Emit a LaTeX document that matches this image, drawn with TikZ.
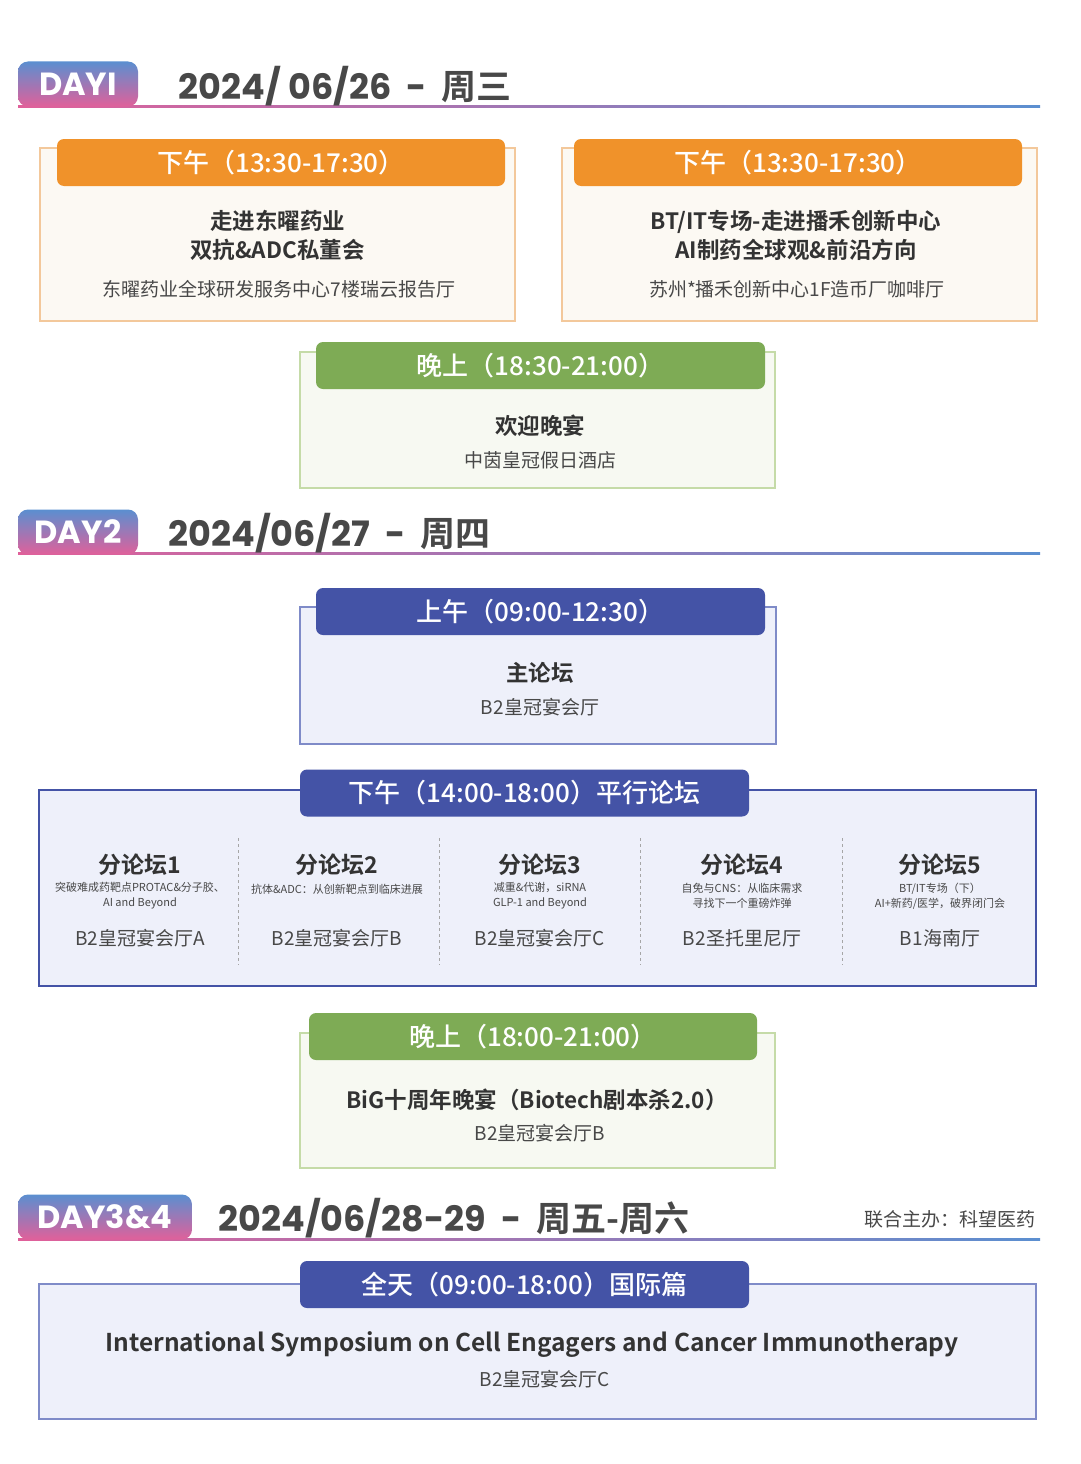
\documentclass[tikz,border=0pt]{standalone}
\usepackage{fontspec}
\setmainfont{Noto Sans CJK SC}[BoldFont={Noto Sans CJK SC Bold}]
\newfontfamily\headfont{Noto Sans CJK SC Medium}
\newfontfamily\datefont{Poppins}[BoldFont={Poppins Bold}]
\usetikzlibrary{positioning}
\definecolor{orangehead}{HTML}{F0922A}
\definecolor{orangeline}{HTML}{F3C89B}
\definecolor{orangefill}{HTML}{FCF9F3}
\definecolor{greenhead}{HTML}{7EAB55}
\definecolor{greenline}{HTML}{C5DBA8}
\definecolor{greenfill}{HTML}{F7F9F2}
\definecolor{bluehead}{HTML}{4453A6}
\definecolor{blueline}{HTML}{7F8BC8}
\definecolor{bluefill}{HTML}{EEF0FA}
\definecolor{tabtop}{HTML}{5B8FD0}
\definecolor{tabbot}{HTML}{E0609A}
\definecolor{darktext}{HTML}{333333}
\definecolor{greytext}{HTML}{484848}
\tikzset{
  sessbox/.style={draw=#1line, fill=#1fill, line width=1.2pt, inner sep=0pt},
  headbox/.style={fill=#1head, rounded corners=7pt, inner sep=0pt, minimum height=47pt,
    text=white, font=\headfont\fontsize{26}{30}\selectfont},
  titletext/.style={text=darktext, font=\bfseries\fontsize{22.5}{29}\selectfont, align=center},
  loctext/.style={text=greytext, font=\fontsize{19}{22}\selectfont},
  subtext/.style={text=greytext, font=\fontsize{11}{15}\selectfont, align=center},
  forumtitle/.style={text=darktext, font=\bfseries\fontsize{23}{26}\selectfont},
  daytab/.style={top color=tabtop, bottom color=tabbot, rounded corners=10pt, inner sep=0pt,
    minimum height=45pt, text=white, font=\datefont\bfseries\fontsize{32}{32}\selectfont},
  datetext/.style={text=greytext, anchor=west, font=\datefont\bfseries\fontsize{35}{36}\selectfont},
  divider/.style={draw=gray!70, dash pattern=on 3pt off 3pt, line width=0.8pt}
}
\begin{document}
\begin{tikzpicture}[x=1pt,y=-1pt]
\useasboundingbox[fill=white] (0,0) rectangle (1080,1464);
%% day 1
\shade[left color=tabbot, right color=tabtop] (18,105) rectangle (1040,107.5);
\node[daytab, minimum width=120pt] (tab1) at (78,84) {DAYI};
\node[datetext] (date1) at (175,86) {2024/ 06/26 \ - \ \rmfamily 周三};
\node[sessbox=orange, minimum width=475pt, minimum height=173pt] (aftbox1) at (277.5,234.5) {};
\node[headbox=orange, minimum width=448pt] (afthead1) at (281,162.5) {下午（13:30-17:30）};
\node[titletext] (afttitle1) at (277.5,235.5) {走进东曜药业\\双抗\&ADC私董会};
\node[loctext] (aftloc1) at (279,289) {东曜药业全球研发服务中心7楼瑞云报告厅};
\node[sessbox=orange, minimum width=475pt, minimum height=173pt] (aftbox2) at (799.5,234.5) {};
\node[headbox=orange, minimum width=448pt] (afthead2) at (798,162.5) {下午（13:30-17:30）};
\node[titletext] (afttitle2) at (796,235.5) {BT/IT专场-走进播禾创新中心\\AI制药全球观\&前沿方向};
\node[loctext] (aftloc2) at (797,289) {苏州*播禾创新中心1F造币厂咖啡厅};
\node[sessbox=green, minimum width=475pt, minimum height=136pt] (evebox1) at (537.5,420) {};
\node[headbox=green, minimum width=449pt] (evehead1) at (540.5,365.5) {晚上（18:30-21:00）};
\node[titletext] (evetitle1) at (540,426) {欢迎晚宴};
\node[loctext] (eveloc1) at (540,460) {中茵皇冠假日酒店};
%% day 2
\shade[left color=tabbot, right color=tabtop] (18,552) rectangle (1040,554.5);
\node[daytab, minimum width=120pt] (tab2) at (78,532) {DAY2};
\node[datetext] (date2) at (165,533) {2024/06/27 \ - \ \rmfamily 周四};
\node[sessbox=blue, minimum width=476pt, minimum height=137pt] (mornbox) at (538,675.5) {};
\node[headbox=blue, minimum width=449pt] (mornhead) at (540.5,611.5) {上午（09:00-12:30）};
\node[titletext] (morntitle) at (540,673) {主论坛};
\node[loctext] (mornloc) at (540,707) {B2皇冠宴会厅};
\node[sessbox=blue, draw=bluehead, minimum width=997pt, minimum height=196pt] (parbox) at (537.5,888) {};
\node[headbox=blue, minimum width=449pt] (parhead) at (524.5,793) {下午（14:00-18:00）平行论坛};
\foreach \xpos in {238,439,640,842}
  \draw[divider] (\xpos,838) -- (\xpos,965);
\foreach \fname/\xpos/\sub/\loc in {
  1/140/{突破难成药靶点PROTAC\&分子胶、\\AI and Beyond}/B2皇冠宴会厅A,
  2/337/{抗体\&ADC：从创新靶点到临床进展\\\mbox{}}/B2皇冠宴会厅B,
  3/540/{减重\&代谢，siRNA\\GLP-1 and Beyond}/B2皇冠宴会厅C,
  4/742/{自免与CNS：从临床需求\\寻找下一个重磅炸弹}/B2圣托里尼厅,
  5/940/{BT/IT专场（下）\\AI+新药/医学，破界闭门会}/B1海南厅}
{
  \node[forumtitle] (forum\fname) at (\xpos,865) {分论坛\fname};
  \node[subtext] (forumsub\fname) at (\xpos,896) {\sub};
  \node[loctext] (forumloc\fname) at (\xpos,938) {\loc};
}
\node[sessbox=green, minimum width=475pt, minimum height=135pt] (evebox2) at (537.5,1100.5) {};
\node[headbox=green, minimum width=448pt] (evehead2) at (533,1036.5) {晚上（18:00-21:00）};
\node[titletext] (evetitle2) at (537,1100) {BiG十周年晚宴（Biotech剧本杀2.0）};
\node[loctext] (eveloc2) at (540,1133) {B2皇冠宴会厅B};
%% day 3 & 4
\shade[left color=tabbot, right color=tabtop] (18,1238) rectangle (1040,1240.5);
\node[daytab, minimum width=174pt] (tab3) at (105,1217) {DAY3\&4};
\node[datetext] (date3) at (215,1218) {2024/06/28-29 \ - \ \rmfamily 周五-周六};
\node[loctext, anchor=east] (cohost) at (1039,1219) {联合主办：科望医药};
\node[sessbox=blue, minimum width=997pt, minimum height=135pt] (fullbox) at (537.5,1351.5) {};
\node[headbox=blue, minimum width=449pt] (fullhead) at (524.5,1284.5) {全天（09:00-18:00）国际篇};
\node[titletext, font=\bfseries\fontsize{24.5}{29}\selectfont] (fulltitle) at (532,1345) {International Symposium on Cell Engagers and Cancer Immunotherapy};
\node[loctext] (fullloc) at (545,1379) {B2皇冠宴会厅C};
\end{tikzpicture}
\end{document}
